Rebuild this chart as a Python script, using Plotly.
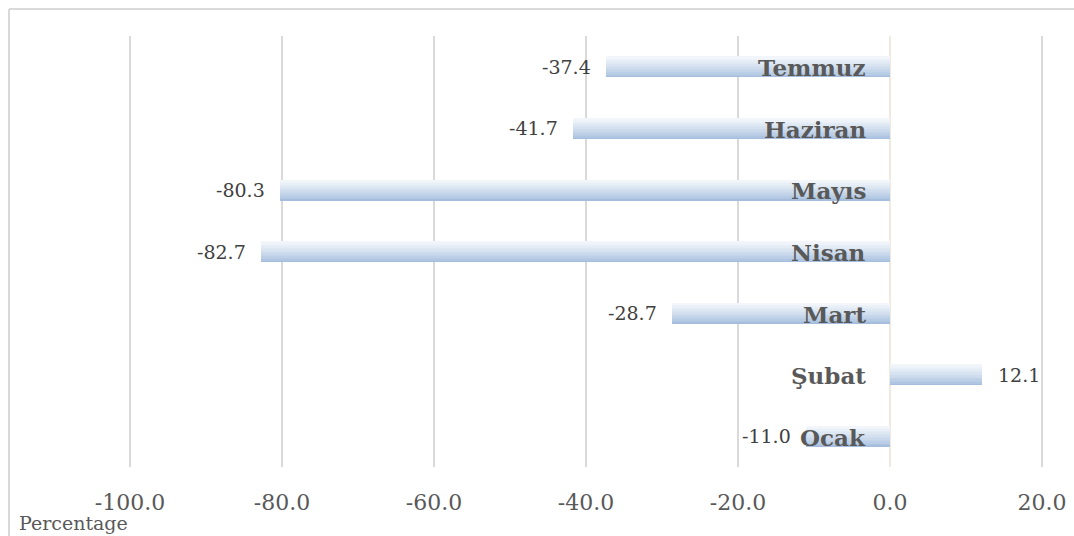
import plotly.graph_objects as go

# ---- data ----
months = ["Ocak", "Şubat", "Mart", "Nisan", "Mayıs", "Haziran", "Temmuz"]
values = [-11.0, 12.1, -28.7, -82.7, -80.3, -41.7, -37.4]
x_ticks = [-100, -80, -60, -40, -20, 0, 20]
x_tick_text = ["-100.0", "-80.0", "-60.0", "-40.0", "-20.0", "0.0", "20.0"]
x_title = "Percentage"

# ---- style ----
FONT = "DejaVu Serif"
BAR_W = 0.33
N_STRIPS = 14
top_rgb = (242, 246, 251)
bot_rgb = (165, 190, 221)


def mix(t):
    te = t ** 0.8
    return "rgb(%d,%d,%d)" % tuple(round(b + (a - b) * te) for a, b in zip(top_rgb, bot_rgb))


fig = go.Figure()
sw = BAR_W / N_STRIPS
for i in range(N_STRIPS):
    fig.add_trace(go.Bar(
        y=months, x=values, orientation="h",
        width=sw * 1.15, offset=-BAR_W / 2 + i * sw,
        marker=dict(color=mix(i / (N_STRIPS - 1)), line=dict(width=0)),
        hoverinfo="skip", showlegend=False,
    ))

for m, v in zip(months, values):
    fig.add_annotation(
        x=v, y=m, text=f"{v:.1f}", showarrow=False,
        xanchor="right" if v < 0 else "left",
        xshift=-13 if v < 0 else 14, yanchor="middle",
        font=dict(family=FONT, size=19, color="#404040"),
    )
    fig.add_annotation(
        x=0, y=m, text=f"<b>{m}</b>", showarrow=False,
        xanchor="right", xshift=-22, yanchor="middle", yshift=-1,
        font=dict(family=FONT, size=23, color="#595959"),
    )

W, H = 1074, 536
L, R, T, B = 126, 28, 36, 69
PX_PER_UNIT = 7.6
x_lo = -100 - (130 - L) / PX_PER_UNIT
x_hi = 20 + (W - R - 1042) / PX_PER_UNIT
pw, ph = W - L - R, H - T - B


def px_x(p):
    return (p - L) / pw


def px_y(p):
    return (H - B - p) / ph


fig.add_annotation(
    xref="paper", yref="paper", x=px_x(17), y=px_y(523),
    text=x_title, showarrow=False, xanchor="left", yanchor="middle",
    font=dict(family=FONT, size=19, color="#595959"),
)

border = dict(color="#d9d9d9", width=2)
fig.add_shape(type="line", xref="paper", yref="paper",
              x0=px_x(9), x1=px_x(1080), y0=px_y(9), y1=px_y(9), line=border)
fig.add_shape(type="line", xref="paper", yref="paper",
              x0=px_x(9), x1=px_x(9), y0=px_y(9), y1=px_y(545), line=border)

fig.update_layout(
    width=W, height=H,
    margin=dict(l=L, r=R, t=T, b=B, autoexpand=False),
    paper_bgcolor="white", plot_bgcolor="white",
    barmode="overlay", bargap=0,
    xaxis=dict(
        range=[x_lo, x_hi], tickvals=x_ticks, ticktext=x_tick_text,
        showgrid=True, gridcolor="#d9d9d9", gridwidth=2,
        zeroline=True, zerolinecolor="#eeeae0", zerolinewidth=2,
        showline=False, ticks="", ticklabelstandoff=20, automargin=False,
        tickfont=dict(family=FONT, size=22, color="#595959"),
    ),
    yaxis=dict(
        categoryorder="array", categoryarray=months,
        range=[-0.5, 6.5], showticklabels=False, showgrid=False,
        zeroline=False, showline=False, ticks="", automargin=False,
    ),
)

fig.write_html("out.html")
